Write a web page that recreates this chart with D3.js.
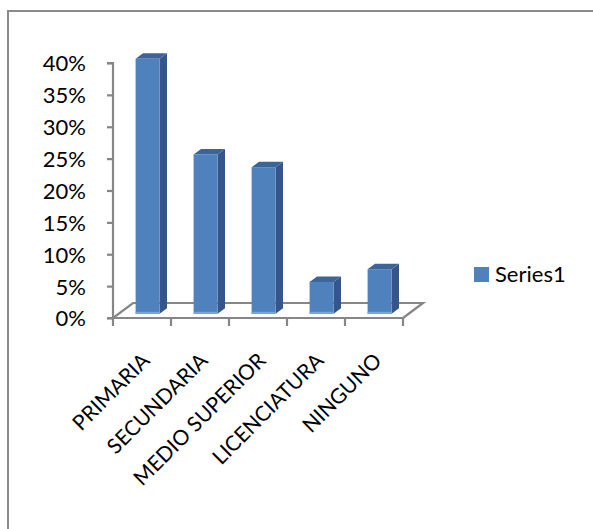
<!DOCTYPE html>
<html><head><meta charset="utf-8">
<script src="https://cdn.jsdelivr.net/npm/d3@7"></script>
<style>html,body{margin:0;padding:0;background:#fff;}svg{display:block;}</style>
</head><body>
<script>
const categories = ["PRIMARIA","SECUNDARIA","MEDIO SUPERIOR","LICENCIATURA","NINGUNO"];
const values = [0.40, 0.25, 0.23, 0.05, 0.07];
const yTicks = [0,0.05,0.10,0.15,0.20,0.25,0.30,0.35,0.40];
const seriesName = "Series1";

const W = 593, H = 529;
const svg = d3.select("body").append("svg").attr("width", W).attr("height", H);
const font = "Lato, 'Open Sans', sans-serif";

// outer frame (extends past right and bottom)
svg.append("path").attr("d", `M8,${H+5} L8,11 L${W+5},11`)
  .attr("fill","none").attr("stroke","#8a8a8a").attr("stroke-width",2);

const x0 = 113, x1 = 403, yBase = 318, yTop = 63;
const depth = [20, -15];
const x = d3.scaleBand().domain(categories).range([x0, x1]).padding(0);
const y = d3.scaleLinear().domain([0, 0.4]).range([yBase, yTop]);

const axisColor = "#868686";
// floor
svg.append("path")
  .attr("d", `M${x0},${yBase} L${x0+depth[0]},${yBase+depth[1]} L${x1+depth[0]},${yBase+depth[1]} L${x1},${yBase}`)
  .attr("fill","none").attr("stroke",axisColor).attr("stroke-width",2.2);

// y axis
const yAxis = d3.axisLeft(y).tickValues(yTicks).tickSize(6).tickFormat(d3.format(".0%"));
const gy = svg.append("g").attr("transform",`translate(${x0},0)`).call(yAxis);
gy.select(".domain").attr("stroke",axisColor).attr("stroke-width",2.2).attr("d",`M-6,${yTop}H0V${yBase}H-6`);
gy.selectAll(".tick line").attr("stroke",axisColor).attr("stroke-width",2.2);
gy.selectAll(".tick text").attr("font-family",font).attr("font-size",22).attr("fill","#000")
  .attr("x",-27).attr("dy","0.36em");

// x axis
const xAxis = d3.axisBottom(x).tickSize(0).tickFormat("");
const gx = svg.append("g").attr("transform",`translate(0,${yBase})`).call(xAxis);
gx.select(".domain").attr("stroke",axisColor).attr("stroke-width",2.2).attr("d",`M${x0},0H${x1}`);
const tickPos = categories.map(c => x(c)).concat([x1]);
svg.append("g").selectAll("line").data(tickPos).join("line")
  .attr("x1",d=>d).attr("x2",d=>d).attr("y1",yBase).attr("y2",yBase+8)
  .attr("stroke",axisColor).attr("stroke-width",2.2);

// bars (3D)
const f = 0.28, bw = 24, dd = 0.37;
const off = [depth[0]*f, depth[1]*f];
const sd = [depth[0]*dd, depth[1]*dd];
const bars = svg.append("g").selectAll("g").data(categories.map((c,i)=>({c, v: values[i]}))).join("g");
bars.each(function(d){
  const g = d3.select(this);
  const cx = x(d.c) + x.bandwidth()/2 + off[0];
  const xl = cx - bw/2, xr = cx + bw/2;
  const yb = y(0) + off[1], yt = y(d.v) + off[1];
  g.append("path").attr("d",`M${xr},${yb} L${xr+sd[0]},${yb+sd[1]} L${xr+sd[0]},${yt+sd[1]} L${xr},${yt} Z`)
    .attr("fill","#34568A");
  g.append("path").attr("d",`M${xl},${yt} L${xl+sd[0]},${yt+sd[1]} L${xr+sd[0]},${yt+sd[1]} L${xr},${yt} Z`)
    .attr("fill","#3D6496");
  g.append("rect").attr("x",xl).attr("y",yt).attr("width",bw).attr("height",yb-yt).attr("fill","#4F81BD");
  g.append("rect").attr("x",xl).attr("y",yb-2).attr("width",bw).attr("height",2).attr("fill","#7DA3D6");
});

// category labels
svg.append("g").selectAll("text").data(categories).join("text")
  .attr("transform", d => `translate(${x(d)+x.bandwidth()/2+9},${yBase+44}) rotate(-45)`)
  .attr("text-anchor","end")
  .attr("font-family",font).attr("font-size",21).attr("fill","#000")
  .text(d=>d);

// legend
const lg = svg.append("g").attr("transform","translate(474,267)");
lg.append("rect").attr("width",15).attr("height",15).attr("fill","#4F81BD");
lg.append("text").attr("x",21).attr("y",15).attr("font-family",font).attr("font-size",22)
  .attr("fill","#000").text(seriesName);
</script>
</body></html>
